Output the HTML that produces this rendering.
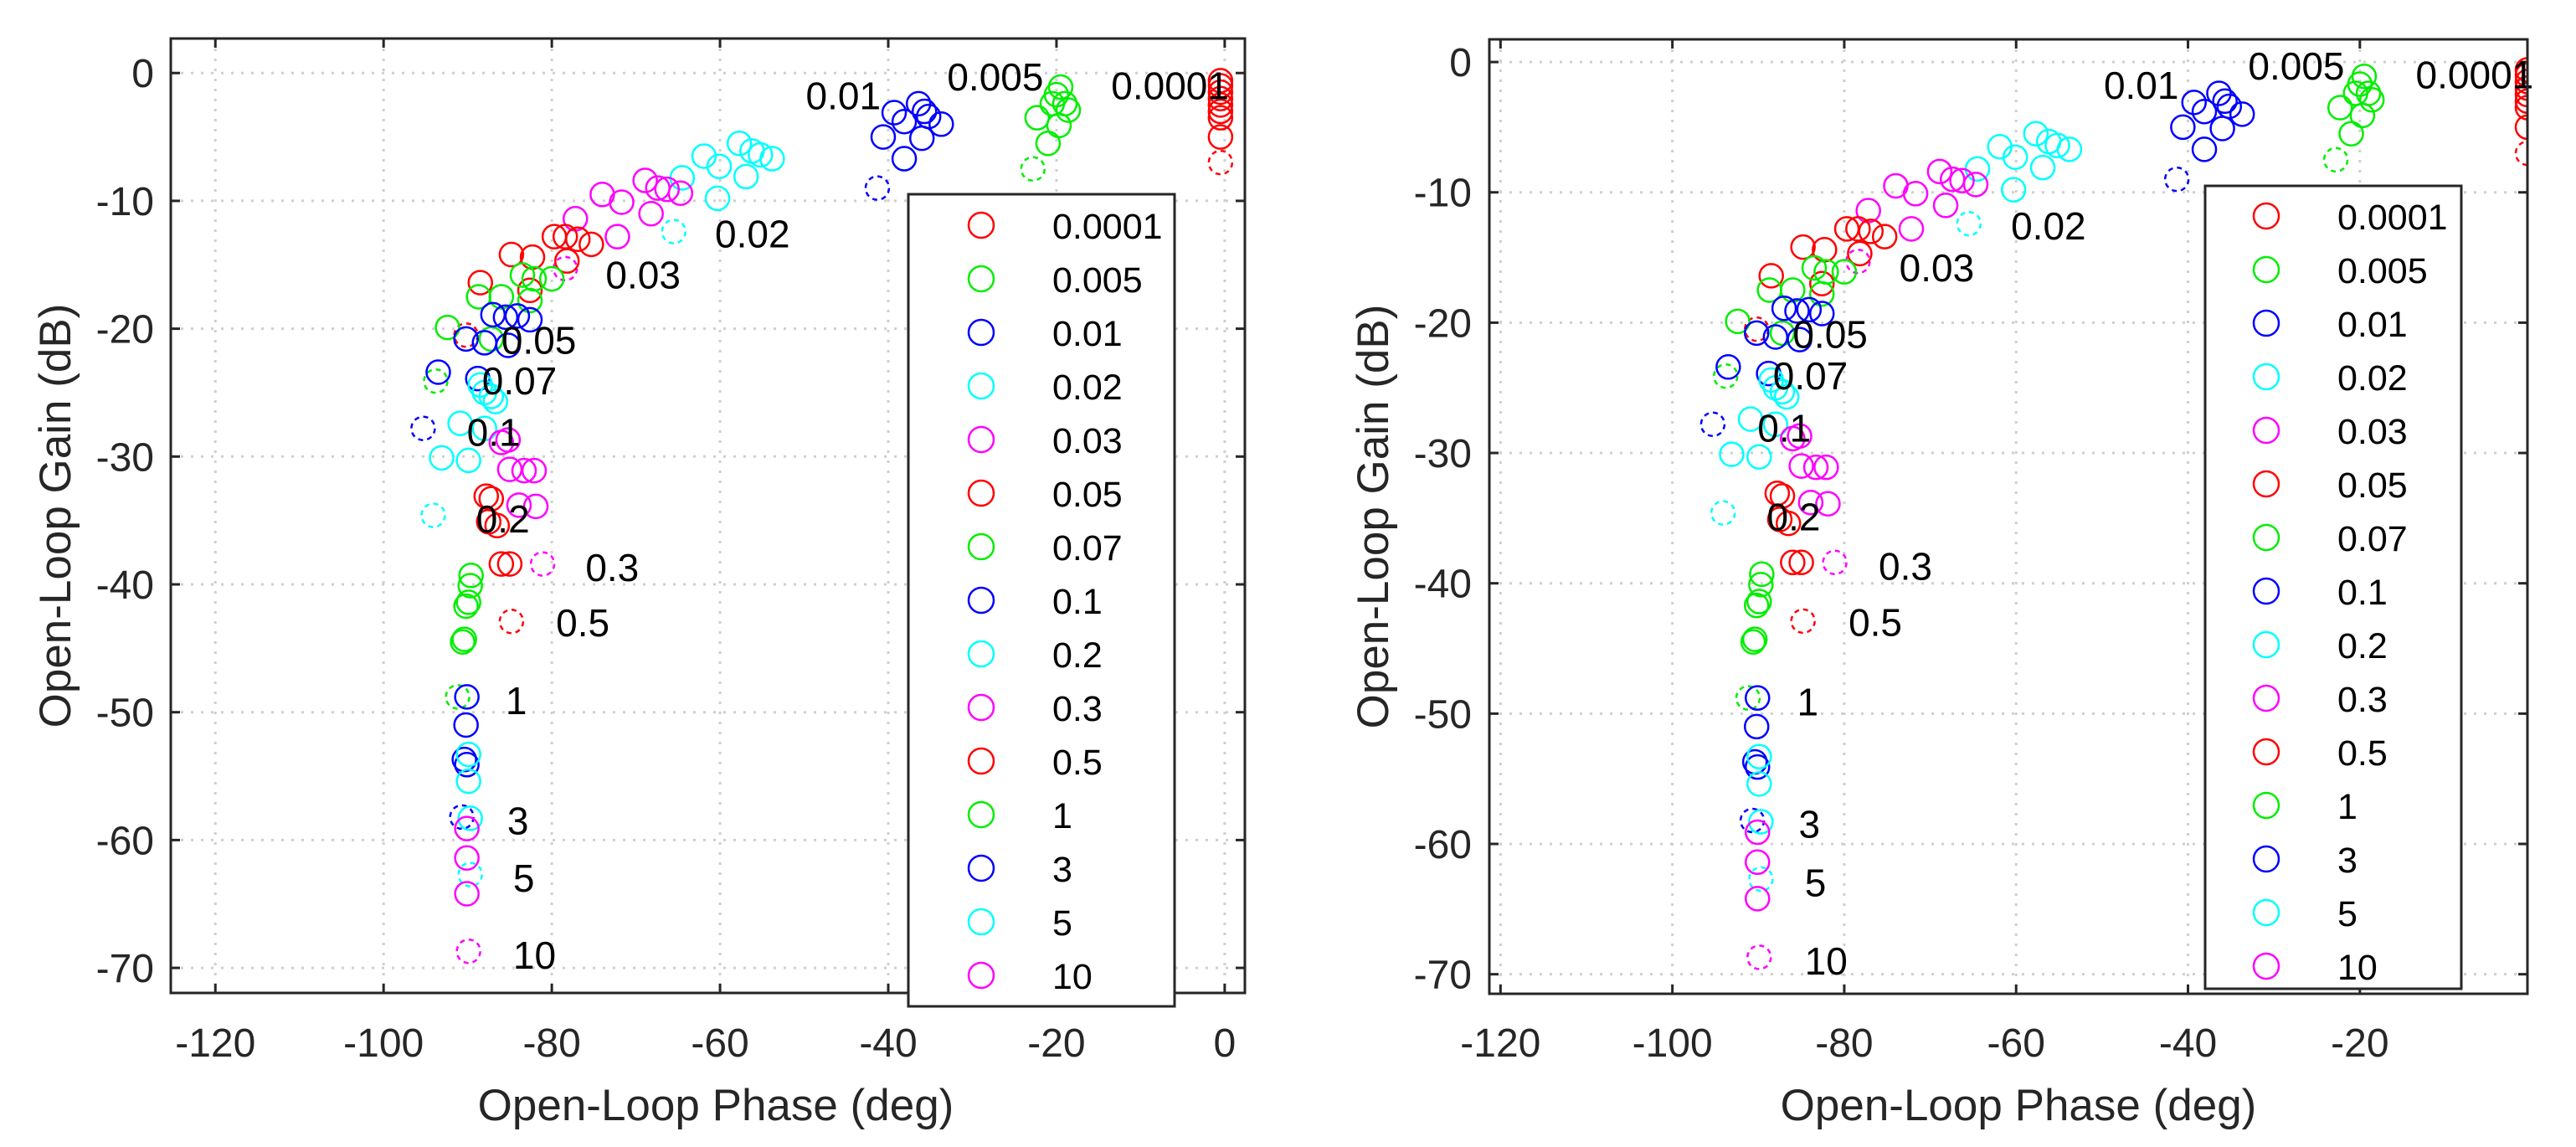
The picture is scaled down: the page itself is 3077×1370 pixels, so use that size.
<!DOCTYPE html>
<html><head><meta charset="utf-8">
<style>
html,body{margin:0;padding:0;background:#fff;}
svg{display:block;font-family:"Liberation Sans",Arial,sans-serif;}
</style></head>
<body>
<svg id="fig" width="3077" height="1370" viewBox="0 0 3077 1370" xmlns="http://www.w3.org/2000/svg"></svg>
<script>
const seriesNames = ["0.0001","0.005","0.01","0.02","0.03","0.05","0.07","0.1","0.2","0.3","0.5","1","3","5","10"];
const seriesColors = ["#ff0000","#00ee00","#0000ff","#00ffff","#ff00ff"];
const phases = [
  [-0.5,-0.5,-0.5,-0.5,-0.5,-0.5,-0.5,-0.5,-0.5],
  [-19.5,-20,-19,-18.6,-22.3,-20.5,-19.7,-21,-22.8],
  [-39.3,-36.4,-35.7,-35.2,-33.7,-38.1,-40.6,-36,-38.1,-41.3],
  [-61.9,-60.1,-57.7,-56.2,-55.2,-53.8,-56.9,-64.5,-60.3,-65.5],
  [-74,-71.7,-68.9,-67.4,-66.3,-64.7,-68.2,-77.2,-72.2,-78.4],
  [-88.5,-84.8,-82.3,-79.7,-78.4,-76.9,-75.3,-78.2,-82.6,-90.2],
  [-88.7,-86,-83.5,-82.1,-80,-82.6,-92.4,-87.2,-93.8],
  [-87,-85.5,-84.1,-82.6,-90.2,-88,-85.2,-93.5,-88.8,-95.3],
  [-88,-87.2,-86.7,-88.5,-90.9,-88,-93.1,-89.9,-94.1],
  [-86,-85.2,-85,-83.3,-82.1,-83.9,-81.9,-81.1],
  [-87.8,-87.2,-87.5,-86.5,-86,-85,-84.8],
  [-89.6,-89.7,-89.9,-90.2,-90.4,-90.6,-91.2],
  [-90.1,-90.2,-90.4,-90.1,-90.7],
  [-89.9,-89.9,-89.7,-89.7],
  [-90.1,-90.1,-90.1,-89.9]
];
const gains = [
  [-0.6,-1,-1.5,-2,-2.5,-3,-3.5,-5,-7],
  [-1.1,-1.7,-2.4,-2.9,-3.5,-2.4,-4.1,-5.5,-7.5],
  [-3.1,-2.4,-3,-3.4,-4,-3.8,-5,-5.1,-6.7,-9],
  [-6.5,-7.3,-5.5,-6.1,-6.4,-6.7,-8.1,-8.2,-9.8,-12.4],
  [-9.5,-10.1,-8.4,-9,-9.1,-9.4,-11,-11.4,-12.8,-15.3],
  [-16.4,-14.2,-14.4,-12.8,-12.8,-13,-13.4,-14.7,-17,-20.5],
  [-17.5,-17.5,-15.8,-16.1,-16.1,-17.8,-19.9,-20.8,-24.1],
  [-18.9,-19.1,-19,-19.3,-20.8,-21.1,-21.3,-23.4,-23.9,-27.8],
  [-25,-25.3,-25.7,-24.4,-27.4,-27.8,-30.1,-30.3,-34.6],
  [-28.9,-28.7,-31,-31.1,-31.1,-33.8,-33.9,-38.4],
  [-33.1,-33.3,-35.1,-35.4,-38.4,-38.4,-42.9],
  [-39.3,-40.1,-41.4,-41.7,-44.3,-44.5,-48.8],
  [-48.8,-51,-53.7,-54.1,-58.2],
  [-53.3,-55.4,-58.3,-62.7],
  [-59.1,-61.4,-64.2,-68.7]
];
const labelPhase = [-13.5,-33,-49.8,-60.6,-73.6,-86,-88.3,-90.1,-89,-76,-79.5,-85.5,-85.3,-84.6,-84.6];
const labelGain = [-1,-0.3,-1.8,-12.6,-15.8,-20.9,-24.1,-28.1,-34.9,-38.7,-43,-49.1,-58.5,-63,-69];
const xTicks = [-120,-100,-80,-60,-40,-20,0];
const yTicks = [0,-10,-20,-30,-40,-50,-60,-70];

const NS = "http://www.w3.org/2000/svg";
const svg = document.getElementById("fig");
function mk(tag, attrs, parent){
  const e = document.createElementNS(NS, tag);
  for (const k in attrs) e.setAttribute(k, attrs[k]);
  (parent||svg).appendChild(e);
  return e;
}

const plots = [
  {name:"left", L:204, R:1487, T:46, B:1186, xmin:-125.3, xmax:2.4, ymin:-71.96, ymax:2.7,
   legend:{x:1085,y:232,w:318,h:970,mx:1172,tx:1257,my:269},
   ylabelX:65, xlabelX:855, ytickR:184},
  {name:"right", L:1779, R:3019, T:47, B:1187, xmin:-121.3, xmax:-0.5, ymin:-71.5, ymax:1.74,
   legend:{x:2634,y:222,w:306,h:959,mx:2707,tx:2792,my:258},
   ylabelX:1639, xlabelX:2411, ytickR:1758}
];

plots.forEach(p => {
  const g = mk("g", {});
  
  
  const sx = v => p.L + (v - p.xmin) / (p.xmax - p.xmin) * (p.R - p.L);
  const sy = v => p.T + (p.ymax - v) / (p.ymax - p.ymin) * (p.B - p.T);
  const clip = mk("clipPath", {id:"clip-"+p.name}, g);
  mk("rect", {x:p.L, y:p.T, width:p.R-p.L, height:p.B-p.T}, clip);

  // grid + ticks
  xTicks.forEach(t => {
    if (t < p.xmin || t > p.xmax) return;
    const x = sx(t);
    const gl = mk("line", {x1:x, x2:x, y1:p.T, y2:p.B, stroke:"#cfcfcf", "stroke-width":3, "stroke-dasharray":"3 9"}, g);
    
    
    mk("line", {x1:x, x2:x, y1:p.B, y2:p.B-11, stroke:"#262626", "stroke-width":3}, g);
    mk("line", {x1:x, x2:x, y1:p.T, y2:p.T+11, stroke:"#262626", "stroke-width":3}, g);
    const tl = mk("text", {x:x, y:1262, "font-size":48, "text-anchor":"middle", fill:"#262626"}, g);
    tl.textContent = String(t);
    
    
  });
  yTicks.forEach(t => {
    const y = sy(t);
    const gl = mk("line", {x1:p.L, x2:p.R, y1:y, y2:y, stroke:"#cfcfcf", "stroke-width":3, "stroke-dasharray":"3 9"}, g);
    
    
    mk("line", {x1:p.L, x2:p.L+11, y1:y, y2:y, stroke:"#262626", "stroke-width":3}, g);
    mk("line", {x1:p.R, x2:p.R-11, y1:y, y2:y, stroke:"#262626", "stroke-width":3}, g);
    const tl = mk("text", {x:p.ytickR, y:y+17, "font-size":48, "text-anchor":"end", fill:"#262626"}, g);
    tl.textContent = String(t);
    
    
  });

  // data markers
  const dg = mk("g", {"clip-path":"url(#clip-"+p.name+")"}, g);
  seriesNames.forEach((s, i) => {
    const col = seriesColors[i % 5];
    phases[i].forEach((ph, j) => {
      const c = mk("circle", {cx:sx(ph), cy:sy(gains[i][j]), r:14, fill:"none", stroke:col, "stroke-width":2.5}, dg);
      if (j === phases[i].length - 1) c.setAttribute("stroke-dasharray", "6 5");
      
      
    });
  });
  // annotation labels
  seriesNames.forEach((s, i) => {
    const t = mk("text", {x:sx(labelPhase[i]), y:sy(labelGain[i])+16, "font-size":46, fill:"#000"}, g);
    t.textContent = s;
    
    
  });

  // axes box
  const box = mk("rect", {x:p.L, y:p.T, width:p.R-p.L, height:p.B-p.T, fill:"none", stroke:"#262626", "stroke-width":3}, g);
  
  

  // legend
  const lg = mk("g", {}, g);
  
  
  mk("rect", {x:p.legend.x, y:p.legend.y, width:p.legend.w, height:p.legend.h, fill:"#fff", stroke:"#262626", "stroke-width":3}, lg);
  seriesNames.forEach((s, i) => {
    const y = p.legend.my + i * 64;
    const e = mk("g", {}, lg);
    
    
    mk("circle", {cx:p.legend.mx, cy:y, r:15, fill:"none", stroke:seriesColors[i % 5], "stroke-width":2.5}, e);
    const t = mk("text", {x:p.legend.tx, y:y+16, "font-size":43, fill:"#000"}, e);
    t.textContent = s;
  });

  // axis titles
  const xl = mk("text", {x:p.xlabelX, y:1338, "font-size":53, "text-anchor":"middle", fill:"#262626"}, g);
  xl.textContent = "Open-Loop Phase (deg)";
  
  
  const yl = mk("text", {x:0, y:0, "font-size":53, "text-anchor":"middle", fill:"#262626",
    transform:"translate(" + (p.ylabelX+19) + "," + ((p.T+p.B)/2) + ") rotate(-90)"}, g);
  yl.textContent = "Open-Loop Gain (dB)";
  
  
});
</script>
</body></html>
